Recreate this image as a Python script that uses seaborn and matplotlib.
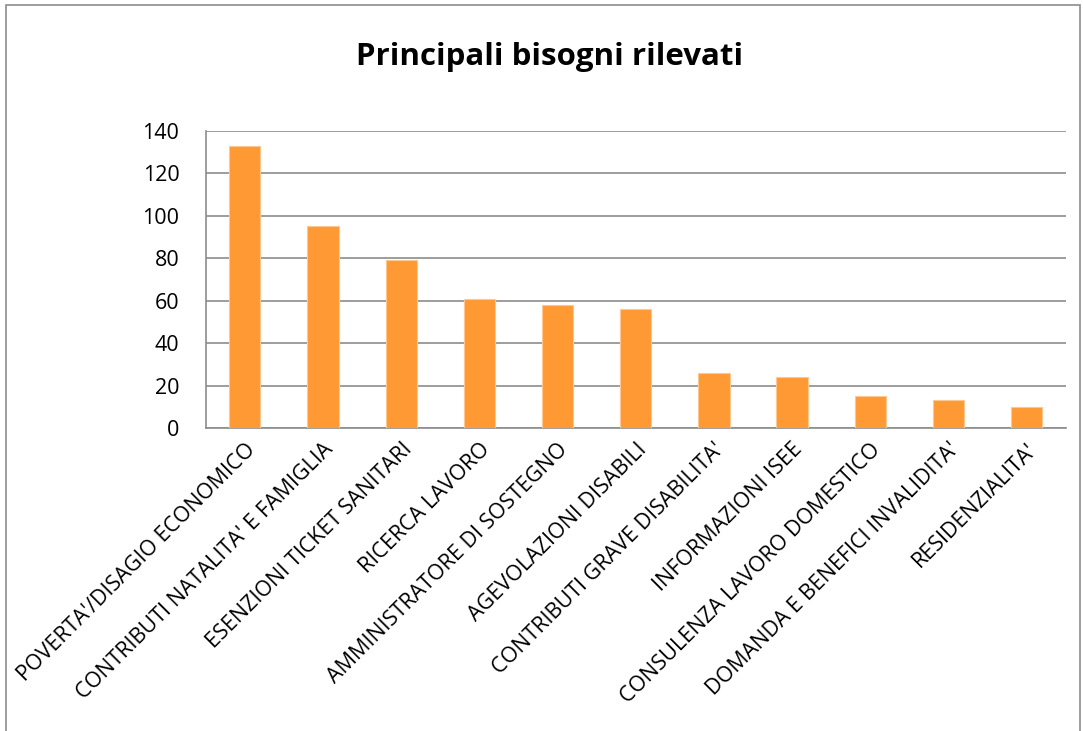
import matplotlib
matplotlib.use("Agg")
import matplotlib.pyplot as plt
import seaborn as sns
import pandas as pd
from matplotlib.patches import Rectangle

# Data
categories = ["POVERTA'/DISAGIO ECONOMICO", "CONTRIBUTI NATALITA' E FAMIGLIA",
              "ESENZIONI TICKET SANITARI", "RICERCA LAVORO",
              "AMMINISTRATORE DI SOSTEGNO", "AGEVOLAZIONI DISABILI",
              "CONTRIBUTI GRAVE DISABILITA'", "INFORMAZIONI ISEE",
              "CONSULENZA LAVORO DOMESTICO", "DOMANDA E BENEFICI INVALIDITA'",
              "RESIDENZIALITA'"]
values = [133, 95, 79, 61, 58, 56, 26, 24, 15, 13, 10]
yticks = [0, 20, 40, 60, 80, 100, 120, 140]

df = pd.DataFrame({"bisogno": categories, "n": values})

sns.set_style("white")
plt.rcParams['font.family'] = ['Open Sans', 'DejaVu Sans']
plt.rcParams['text.color'] = 'black'
plt.rcParams['xtick.color'] = 'black'
plt.rcParams['ytick.color'] = 'black'

fig = plt.figure(figsize=(10.83, 7.31), dpi=100)
ax = fig.add_axes([0.190, 0.4145, 0.794, 0.4063])

sns.barplot(data=df, x="bisogno", y="n", color="#FF9933", width=0.4,
            saturation=1, edgecolor="#FFC890", linewidth=0.8, ax=ax, zorder=3)

ax.set_ylim(0, 140)
ax.set_xlim(-0.5, len(categories) - 0.5)
ax.set_yticks(yticks)
ax.yaxis.grid(True, color="#8c8c8c", linewidth=1.2, zorder=0)
ax.set_axisbelow(True)
ax.set_xlabel("")
ax.set_ylabel("")

for s in ["top", "right"]:
    ax.spines[s].set_visible(False)
for s in ["left", "bottom"]:
    ax.spines[s].set_color("#8c8c8c")
    ax.spines[s].set_linewidth(1.2)

ax.tick_params(axis="y", length=5, width=1.2, color="#8c8c8c", labelcolor="black",
               labelsize=15.5, pad=14)
ax.tick_params(axis="x", length=0, labelsize=15.5, labelcolor="black", pad=8)
ax.set_xticks(range(len(categories)))
ax.set_xticklabels(categories, rotation=45, ha="right", va="top", rotation_mode="anchor")

fig.text(0.507, 0.922, "Principali bisogni rilevati", ha="center", va="center",
         fontsize=22.5, fontweight="bold", color="black")

# chart-area border
fig.patches.append(Rectangle((0.006, -0.01), 0.991, 1.003, transform=fig.transFigure,
                             fill=False, edgecolor="#8c8c8c", linewidth=1.2))

fig.savefig("out.png", dpi=100)
